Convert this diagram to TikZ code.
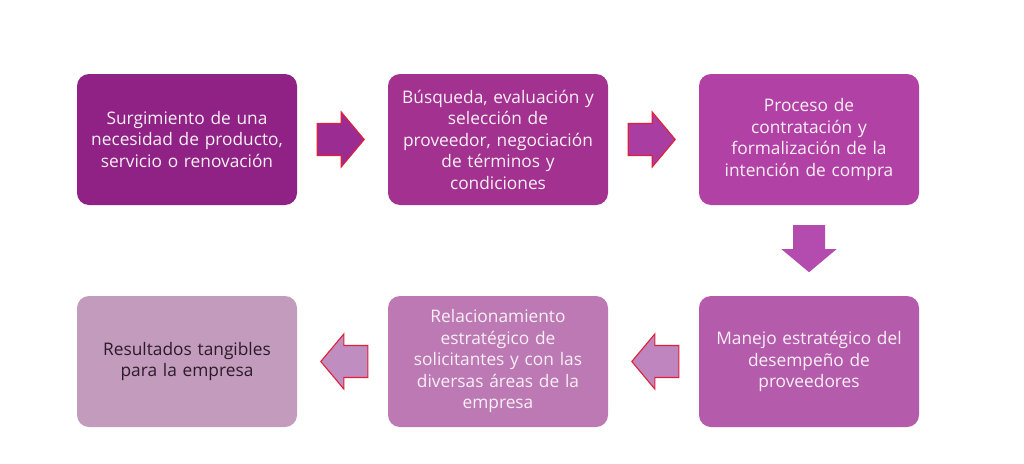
\documentclass[tikz,border=0pt]{standalone}
\usepackage{fontspec}
\setmainfont{Open Sans}
\usetikzlibrary{calc}
\definecolor{cA}{HTML}{8F2284}
\definecolor{cB}{HTML}{A2318F}
\definecolor{cC}{HTML}{B241A5}
\definecolor{cD}{HTML}{B55BAB}
\definecolor{cE}{HTML}{BC79B3}
\definecolor{cF}{HTML}{C39BBD}
\definecolor{aA}{HTML}{9B2C91}
\definecolor{aB}{HTML}{A93DA1}
\definecolor{aC}{HTML}{B44BAE}
\definecolor{aD}{HTML}{BE85BE}
\definecolor{aE}{HTML}{C08DC0}
\definecolor{edgeRed}{HTML}{E0203A}
\definecolor{lightText}{HTML}{FAF0F8}
\definecolor{darkText}{HTML}{2B1B2A}
\begin{document}
\begin{tikzpicture}[x=1pt,y=-1pt,
  box/.style={rounded corners=12pt, minimum width=220pt, minimum height=131pt,
    text width=210pt, align=center, inner sep=0pt, text=lightText,
    font=\fontsize{17.3}{21.5}\selectfont},
  blockarrow/.pic={\path[pic actions] (0,-16) -- (24,-16) -- (24,-27.5) -- (47,0) -- (24,27.5) -- (24,16) -- (0,16) -- cycle;},
  redarrow/.style={draw=edgeRed, line width=1.1pt, line join=miter}
]
\useasboundingbox (0,0) rectangle (1024,463);
\fill[white] (0,0) rectangle (1024,463);
\node[box, fill=cA] (b1) at (187,139.5) {Surgimiento de una\\ necesidad de producto,\\ servicio o renovación};
\node[box, fill=cB] (b2) at (498,139.5) {Búsqueda, evaluación y\\ selección de\\ proveedor, negociación\\ de términos y\\ condiciones};
\node[box, fill=cC] (b3) at (809,139.5) {Proceso de\\ contratación y\\ formalización de la\\ intención de compra};
\node[box, fill=cD] (b4) at (809,361.5) {Manejo estratégico del\\ desempeño de\\ proveedores};
\node[box, fill=cE] (b5) at (498,361.5) {Relacionamiento\\ estratégico de\\ solicitantes y con las\\ diversas áreas de la\\ empresa};
\node[box, fill=cF, text=darkText] (b6) at (187,361.5) {Resultados tangibles\\ para la empresa};
\coordinate (t1) at ($(b1.east)+(20,0)$);
\coordinate (t2) at ($(b2.east)+(20,0)$);
\coordinate (t3) at ($(b3.south)+(0,20)$);
\coordinate (t4) at ($(b4.west)+(-20,0)$);
\coordinate (t5) at ($(b5.west)+(-20,0)$);
\pic[fill=aA, redarrow] at (t1) {blockarrow};
\pic[fill=aB, redarrow] at (t2) {blockarrow};
\pic[fill=aC, rotate=-90] at (t3) {blockarrow};
\pic[fill=aD, redarrow, rotate=180] at (t4) {blockarrow};
\pic[fill=aE, redarrow, rotate=180] at (t5) {blockarrow};
\end{tikzpicture}
\end{document}
